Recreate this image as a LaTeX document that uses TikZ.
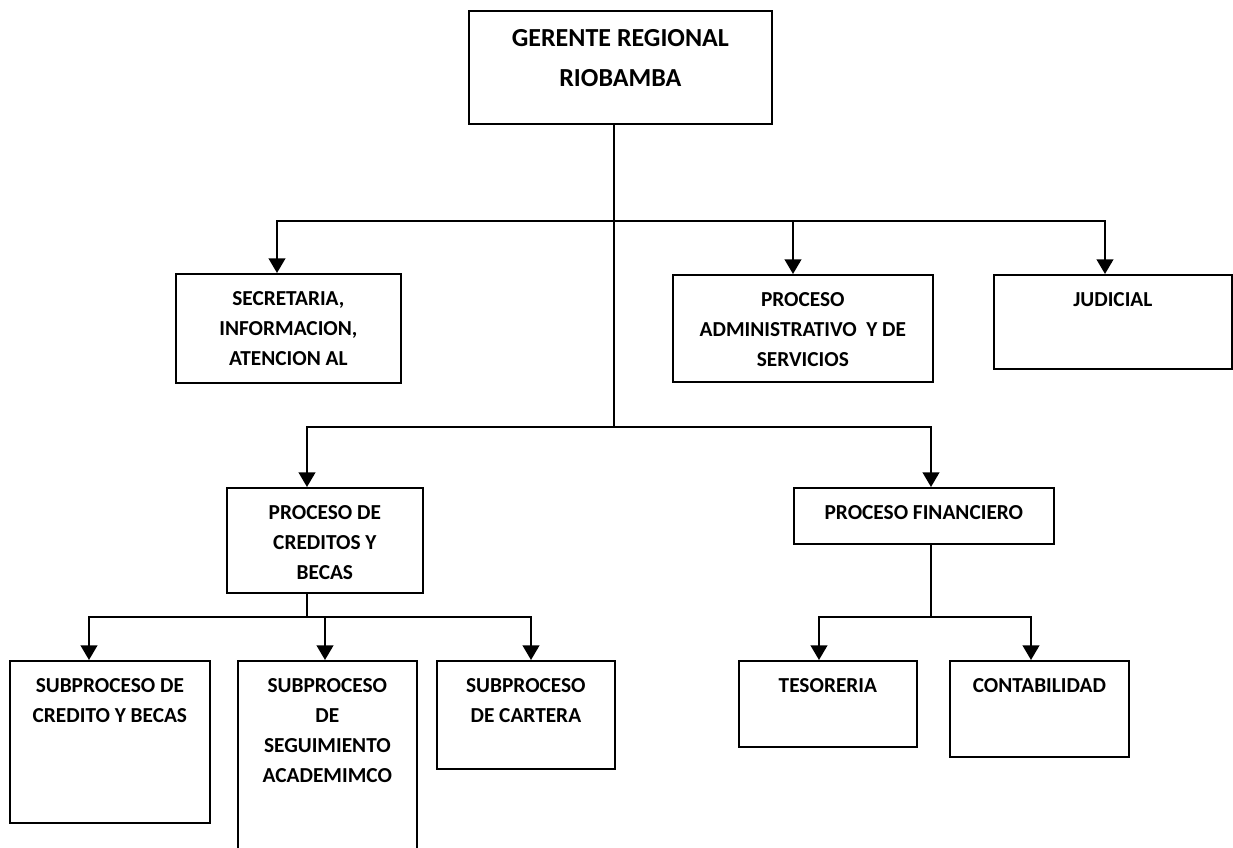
\documentclass[tikz,border=0pt]{standalone}
\usepackage{fontspec}
\setmainfont{Carlito}
\usetikzlibrary{arrows.meta}

\newlength{\unitpx}
\setlength{\unitpx}{0.75pt}
% box of fixed size, text at the top
\newcommand{\caja}[4][11]{\parbox[t][#3\unitpx][t]{#2\unitpx}{\centering\vspace*{#1\unitpx}\strut #4}}

\tikzset{
  unidad/.style={draw, line width=1.3pt, inner sep=0pt, anchor=north west,
    font=\fontsize{16}{22.5}\selectfont\bfseries},
  jefe/.style={unidad, font=\fontsize{19.5}{30}\selectfont\bfseries},
  flecha/.style={line width=1.6pt, -{Triangle[length=11pt,width=12.5pt]}},
  rama/.style={line width=1.1pt}
}

\begin{document}
\begin{tikzpicture}[x=0.75pt, y=-0.75pt]
  \useasboundingbox (0,0) rectangle (1233,848);

  %top box
  \node[jefe] (ger) at (468,10) {\caja[8]{303}{113}{GERENTE REGIONAL\\RIOBAMBA}};

  %first level
  \node[unidad] (sec) at (175,273) {\caja{225}{109}{SECRETARIA,\\INFORMACION,\\ATENCION AL}};
  \node[unidad] (adm) at (672,274) {\caja{260}{107}{PROCESO\\ADMINISTRATIVO~ Y DE\\SERVICIOS}};
  \node[unidad] (jud) at (993,274) {\caja{238}{94}{JUDICIAL}};

  %second level
  \node[unidad] (cred) at (226,487) {\caja{196}{105}{PROCESO DE\\CREDITOS Y\\BECAS}};
  \node[unidad] (fin) at (793,487) {\caja{260}{56}{PROCESO FINANCIERO}};

  %subprocesos
  \node[unidad] (sc1) at (9,660) {\caja{200}{162}{SUBPROCESO DE\\CREDITO Y BECAS}};
  \node[unidad] (sc2) at (237,660) {\caja{179}{205}{SUBPROCESO\\DE\\SEGUIMIENTO\\ACADEMIMCO}};
  \node[unidad] (sc3) at (436,660) {\caja{178}{108}{SUBPROCESO\\DE CARTERA}};
  \node[unidad] (tes) at (738,660) {\caja{178}{86}{TESORERIA}};
  \node[unidad] (con) at (949,660) {\caja{179}{96}{CONTABILIDAD}};

  %junction points
  \coordinate (t1) at (614,221);
  \coordinate (t2) at (614,427);
  \coordinate (c1) at (307,617);
  \coordinate (f1) at (931,617);

  %trunk lines
  \draw[rama] (t2 |- ger.south) -- (t2);
  \draw[rama] (c1 |- cred.south) -- (c1);
  \draw[rama] (f1 |- fin.south) -- (f1);

  %arrows down to the boxes
  \foreach \dest/\px in {sec/277,adm/793,jud/1105}
    \draw[flecha] (t1) -| (\px,0 |- \dest.north);
  \foreach \dest/\px in {cred/307,fin/931}
    \draw[flecha] (t2) -| (\px,0 |- \dest.north);
  \foreach \dest/\px in {sc1/89,sc2/325,sc3/531}
    \draw[flecha] (c1) -| (\px,0 |- \dest.north);
  \foreach \dest/\px in {tes/819,con/1031}
    \draw[flecha] (f1) -| (\px,0 |- \dest.north);
\end{tikzpicture}
\end{document}
